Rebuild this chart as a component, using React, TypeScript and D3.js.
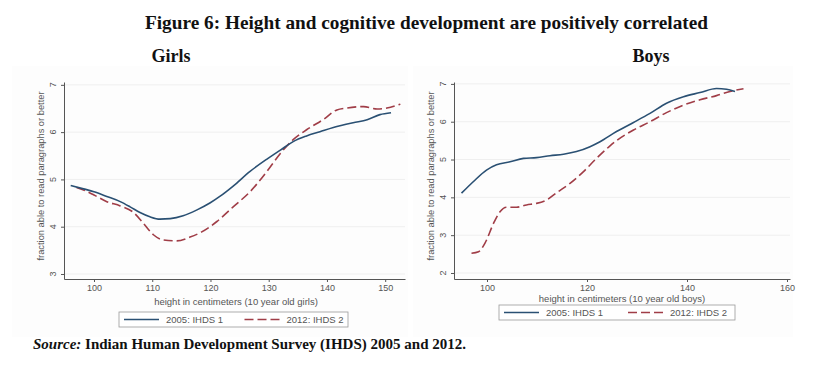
import React, { useEffect, useRef } from 'react';
import * as d3 from 'd3';

type Pt = [number, number];

// height (cm) vs fraction able to read paragraph or better
const girls2005: Pt[] = [
  [96.0, 4.87], [98.2, 4.8], [100, 4.74], [102.2, 4.64], [104.5, 4.53], [106.2, 4.42],
  [107.9, 4.3], [109.6, 4.21], [111.3, 4.16], [113.1, 4.17], [115.3, 4.23], [117.6, 4.35],
  [119.9, 4.5], [121.6, 4.64], [123.9, 4.86], [126.8, 5.17], [129.7, 5.43], [132, 5.62],
  [134.2, 5.8], [136.5, 5.92], [138.8, 6.01], [141.1, 6.1], [144.5, 6.2], [146.9, 6.26],
  [149.1, 6.37], [151.0, 6.41],
];
const girls2012: Pt[] = [
  [97, 4.83], [98.5, 4.76], [100, 4.67], [102.2, 4.53], [104.5, 4.44], [106.8, 4.3],
  [108.5, 4.07], [110.2, 3.83], [111.9, 3.72], [114.2, 3.7], [116.5, 3.78], [118.5, 3.89],
  [121.1, 4.11], [123.9, 4.42], [126.8, 4.74], [129.7, 5.17], [132, 5.55], [134.2, 5.84],
  [136.5, 6.05], [139.4, 6.27], [141.7, 6.47], [143.4, 6.51], [146.3, 6.54], [148.6, 6.49],
  [150.3, 6.51], [152.6, 6.59],
];
const boys2005: Pt[] = [
  [94.9, 4.11], [97.3, 4.42], [99.9, 4.72], [101.9, 4.86], [104.6, 4.94], [107.3, 5.03],
  [109.9, 5.05], [112.6, 5.1], [115.3, 5.14], [117.9, 5.21], [120.6, 5.34], [122.6, 5.47],
  [125.9, 5.74], [129.3, 5.98], [132.6, 6.22], [135.9, 6.49], [139.3, 6.66], [142.6, 6.77],
  [145.9, 6.88], [147.9, 6.86], [149.6, 6.8],
];
const boys2012: Pt[] = [
  [96.9, 2.52], [98.3, 2.56], [99.6, 2.79], [101.3, 3.31], [102.6, 3.62], [103.9, 3.74],
  [105.9, 3.74], [107.9, 3.8], [109.9, 3.84], [111.9, 3.93], [113.9, 4.12], [116.6, 4.37],
  [119.3, 4.68], [121.9, 5.03], [124.6, 5.36], [125.9, 5.5], [129.3, 5.78], [132.6, 6.0],
  [135.9, 6.24], [139.3, 6.44], [142.6, 6.58], [145.9, 6.69], [148.6, 6.8], [151.3, 6.87],
];

const girlsXTicks = [100, 110, 120, 130, 140, 150];
const boysXTicks = [100, 120, 140, 160];
const girlsYTicks = [3, 4, 5, 6, 7];
const boysYTicks = [2, 3, 4, 5, 6, 7];
const seriesNames = ['2005: IHDS 1', '2012: IHDS 2'];

const BLUE = '#2a5073';
const RED = '#a03d47';
const DASH = '9,4';
const SANS = 'Liberation Sans, Arial, sans-serif';
const SERIF = 'Liberation Serif, Times New Roman, serif';

interface Panel {
  name: string;
  a: Pt[];
  b: Pt[];
  xDomain: [number, number];
  yDomain: [number, number];
  xRange: [number, number];
  xTicks: number[];
  yTicks: number[];
  xLabel: string;
  nameX: number;
  bg: [number, number];
  legend: { x: number; y: number; w: number };
  xLabelY: number;
  xLabelX: number;
}

const panels: Panel[] = [
  {
    name: 'Girls', a: girls2005, b: girls2012,
    xDomain: [94.85, 153.4], yDomain: [2.894, 7.06], xRange: [64, 405],
    xTicks: girlsXTicks, yTicks: girlsYTicks,
    xLabel: 'height in centimeters (10 year old girls)', nameX: 171,
    bg: [12, 408], legend: { x: 119, y: 312, w: 229 }, xLabelY: 305, xLabelX: 236,
  },
  {
    name: 'Boys', a: boys2005, b: boys2012,
    xDomain: [93.4, 160.6], yDomain: [1.841, 7.05], xRange: [454, 790],
    xTicks: boysXTicks, yTicks: boysYTicks,
    xLabel: 'height in centimeters (10 year old boys)', nameX: 651,
    bg: [413, 793], legend: { x: 499, y: 305, w: 236 }, xLabelY: 302, xLabelX: 622,
  },
];

export default function App() {
  const ref = useRef<SVGSVGElement>(null);

  useEffect(() => {
    if (!ref.current) return;
    const svg = d3.select(ref.current);
    svg.selectAll('*').remove();

    svg.append('rect').attr('width', 821).attr('height', 372).attr('fill', '#fff');

    svg.append('text')
      .attr('x', 145).attr('y', 29)
      .attr('textLength', 563).attr('lengthAdjust', 'spacingAndGlyphs')
      .attr('font-family', SERIF).attr('font-weight', 'bold').attr('font-size', 19)
      .attr('fill', '#111')
      .text('Figure 6: Height and cognitive development are positively correlated');

    const yTop = 82, yBot = 279;

    panels.forEach(p => {
      const x = d3.scaleLinear().domain(p.xDomain).range(p.xRange);
      const y = d3.scaleLinear().domain(p.yDomain).range([yBot, yTop]);

      svg.append('rect')
        .attr('x', p.bg[0]).attr('y', 66).attr('width', p.bg[1] - p.bg[0]).attr('height', 271)
        .attr('fill', '#fdfdfd');

      svg.append('text')
        .attr('x', p.nameX).attr('y', 62).attr('text-anchor', 'middle')
        .attr('font-family', SERIF).attr('font-weight', 'bold').attr('font-size', 18)
        .attr('fill', '#111').text(p.name);

      const g = svg.append('g');

      // gridlines
      g.selectAll('line.grid').data(p.yTicks).enter().append('line')
        .attr('x1', p.xRange[0]).attr('x2', p.xRange[1])
        .attr('y1', d => y(d)).attr('y2', d => y(d))
        .attr('stroke', '#efefef').attr('stroke-width', 1);

      // x axis
      const xa = g.append('g')
        .attr('transform', `translate(0,${yBot})`)
        .call(d3.axisBottom(x).tickValues(p.xTicks).tickSize(3).tickSizeOuter(0).tickPadding(3));
      xa.select('.domain').attr('stroke', '#555');
      xa.selectAll('line').attr('stroke', '#555');
      xa.selectAll('text').attr('font-family', SANS).attr('font-size', 9).attr('fill', '#555');

      // y axis
      const ya = g.append('g')
        .attr('transform', `translate(${p.xRange[0]},0)`)
        .call(d3.axisLeft(y).tickValues(p.yTicks).tickSize(3).tickSizeOuter(0));
      ya.select('.domain').attr('stroke', '#555');
      ya.selectAll('line').attr('stroke', '#555');
      ya.selectAll('text').remove();
      g.selectAll('text.ytick').data(p.yTicks).enter().append('text')
        .attr('transform', d => `translate(${p.xRange[0] - 8},${y(d)}) rotate(-90)`)
        .attr('text-anchor', 'middle')
        .attr('font-family', SANS).attr('font-size', 9).attr('fill', '#555')
        .text(d => String(d));

      g.append('text')
        .attr('transform', `translate(${p.xRange[0] - 20},176) rotate(-90)`)
        .attr('text-anchor', 'middle')
        .attr('font-family', SANS).attr('font-size', 9.3).attr('fill', '#555')
        .text('fraction able to read paragraphs or better');

      g.append('text')
        .attr('x', p.xLabelX)
        .attr('y', p.xLabelY).attr('text-anchor', 'middle')
        .attr('font-family', SANS).attr('font-size', 9.5).attr('fill', '#555')
        .text(p.xLabel);

      const line = d3.line<Pt>().x(d => x(d[0])).y(d => y(d[1])).curve(d3.curveMonotoneX);
      g.append('path').datum(p.b).attr('d', line).attr('fill', 'none')
        .attr('stroke', RED).attr('stroke-width', 1.6).attr('stroke-dasharray', DASH);
      g.append('path').datum(p.a).attr('d', line).attr('fill', 'none')
        .attr('stroke', BLUE).attr('stroke-width', 1.6);

      // legend
      const lg = g.append('g').attr('transform', `translate(${p.legend.x},${p.legend.y})`);
      lg.append('rect').attr('width', p.legend.w).attr('height', 15)
        .attr('fill', '#fff').attr('stroke', '#999').attr('stroke-width', 0.8);
      const half = p.legend.w / 2;
      [0, 1].forEach(i => {
        const ox = i * (half + 6);
        lg.append('line')
          .attr('x1', ox + 5).attr('x2', ox + 40).attr('y1', 7.5).attr('y2', 7.5)
          .attr('stroke', i === 0 ? BLUE : RED).attr('stroke-width', 1.6)
          .attr('stroke-dasharray', i === 0 ? null : DASH);
        lg.append('text')
          .attr('x', ox + 47).attr('y', 11)
          .attr('font-family', SANS).attr('font-size', 9.5).attr('fill', '#555')
          .text(seriesNames[i]);
      });
    });

    const src = svg.append('text')
      .attr('x', 33).attr('y', 349)
      .attr('font-family', SERIF).attr('font-weight', 'bold').attr('font-size', 15)
      .attr('fill', '#111');
    src.append('tspan').attr('font-style', 'italic').text('Source:');
    src.append('tspan').text(' Indian Human Development Survey (IHDS) 2005 and 2012.');
  }, []);

  return (
    <svg ref={ref} width={821} height={372}
      style={{ position: 'absolute', left: 0, top: 0, display: 'block' }} />
  );
}
